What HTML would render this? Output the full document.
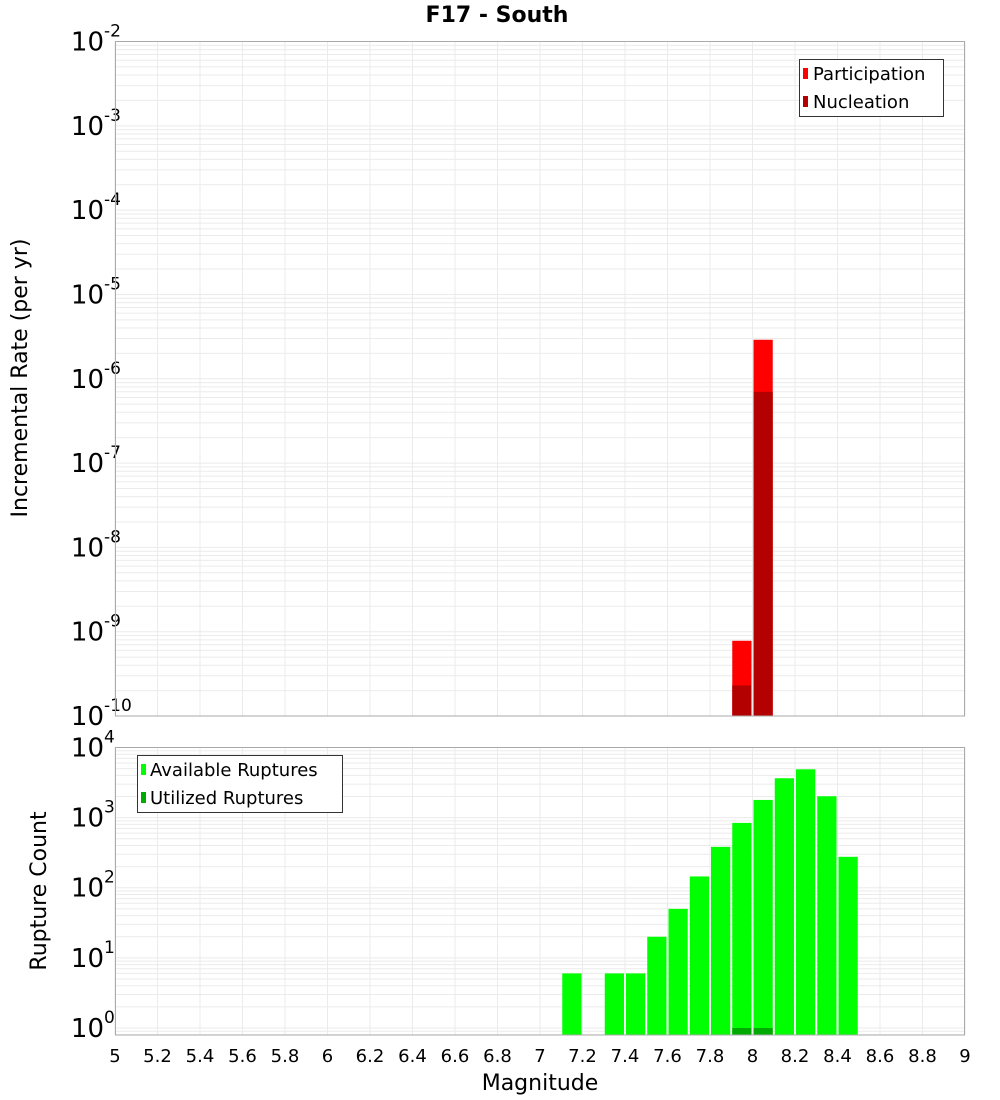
<!DOCTYPE html>
<html><head><meta charset="utf-8"><style>
body{margin:0;background:#fff;}
svg{display:block;font-family:"DejaVu Sans","Liberation Sans",sans-serif;}
</style></head><body>
<svg id="chart" width="1000" height="1100" xmlns="http://www.w3.org/2000/svg">
<text x="497" y="22" text-anchor="middle" font-size="22" font-weight="bold">F17 - South</text>
<g id="top"></g>
<g id="bot"></g>
<text transform="translate(27,378) rotate(-90)" text-anchor="middle" font-size="22">Incremental Rate (per yr)</text>
<text transform="translate(46,891) rotate(-90)" text-anchor="middle" font-size="22">Rupture Count</text>
<text x="540" y="1090" text-anchor="middle" font-size="22">Magnitude</text>
<g>
<rect x="799.5" y="59.5" width="144" height="57" fill="#fff" stroke="#333"/>
<rect x="803" y="68" width="5" height="11" fill="#ff0000"/>
<text x="813" y="80" font-size="18">Participation</text>
<rect x="803" y="96" width="5" height="11" fill="#b30000"/>
<text x="813" y="108" font-size="18">Nucleation</text>
</g>
<g>
<rect x="137.5" y="755.5" width="205" height="57" fill="#fff" stroke="#333"/>
<rect x="141" y="764" width="5" height="11" fill="#00ff00"/>
<text x="150" y="776" font-size="18">Available Ruptures</text>
<rect x="141" y="792" width="5" height="11" fill="#00aa00"/>
<text x="150" y="804" font-size="18">Utilized Ruptures</text>
</g>
</svg>
<script>
const xTicks=[5,5.2,5.4,5.6,5.8,6,6.2,6.4,6.6,6.8,7,7.2,7.4,7.6,7.8,8,8.2,8.4,8.6,8.8,9];
const rateMags=[7.95,8.05];
const participation=[7.8e-10,2.9e-6];
const nucleation=[2.3e-10,7.0e-7];
const countMags=[7.15,7.35,7.45,7.55,7.65,7.75,7.85,7.95,8.05,8.15,8.25,8.35,8.45];
const available=[6,6,6,20,50,145,383,841,1787,3642,4890,2018,276];
const utilizedMags=[7.95,8.05];
const utilized=[1,1];
const topExps=[-10,-9,-8,-7,-6,-5,-4,-3,-2];
const botExps=[0,1,2,3,4];

const NS="http://www.w3.org/2000/svg";
const X0=115,X1=965;
const x=m=>X0+(m-5)/4*(X1-X0);
const T0=716,T1=41.5;
const yTop=v=>T0-(Math.log10(v)+10)/8*(T0-T1);
const B0=1035,B1=747.5,BL=-0.1;
const yBot=v=>B0-(Math.log10(v)-BL)/(4-BL)*(B0-B1);
function el(p,tag,a){const e=document.createElementNS(NS,tag);for(const k in a)e.setAttribute(k,a[k]);p.appendChild(e);return e;}

function panel(g,yf,ytop,ybot,lo,hi,exps){
  for(let d=lo;d<hi;d++)for(let k=1;k<10;k++){const v=k*Math.pow(10,d);const yy=yf(v);if(yy<ytop-0.5||yy>ybot+0.5)continue;
    const l=el(g,'line',{x1:X0,x2:X1,y1:yy,y2:yy,stroke:'#ebebeb','stroke-width':1});
    
    }
  xTicks.forEach(t=>{const l=el(g,'line',{x1:x(t),x2:x(t),y1:ytop,y2:ybot,stroke:'#ebebeb','stroke-width':1});
    
    });
  exps.forEach(e=>{const yy=yf(Math.pow(10,e));
    const t=el(g,'text',{x:104,y:yy+9,'text-anchor':'end','font-size':26});
    
    
    t.textContent='10';
    const s=el(g,'text',{x:104,y:yy-5,'font-size':17});
    
    
    s.textContent=String(e);});
}
const gTop=document.getElementById('top'),gBot=document.getElementById('bot');
panel(gTop,yTop,T1,T0,-10,-2,topExps);
panel(gBot,yBot,B1,B0,-1,4,botExps);
const bw=x(5.1)-x(5)-2;
function bars(g,mags,vals,yf,base,fill,name){
  mags.forEach((m,i)=>{const yy=yf(vals[i]);
    const r=el(g,'rect',{x:x(m)-bw/2,y:yy,width:bw,height:base-yy,fill:fill});
    
    });
}
bars(gTop,rateMags,participation,yTop,T0,'#ff0000','participation-bar');
bars(gTop,rateMags,nucleation,yTop,T0,'#b30000','nucleation-bar');
bars(gBot,countMags,available,yBot,B0,'#00ff00','available-bar');
bars(gBot,utilizedMags,utilized,yBot,B0,'#00aa00','utilized-bar');
el(gTop,'rect',{x:X0+0.5,y:T1,width:X1-X0-1,height:T0-T1,fill:'none',stroke:'#aaa'});
el(gBot,'rect',{x:X0+0.5,y:B1,width:X1-X0-1,height:B0-B1,fill:'none',stroke:'#aaa'});
xTicks.forEach(t=>{const tx=el(gBot,'text',{x:x(t),y:1062,'text-anchor':'middle','font-size':18});
  
  
  tx.textContent=String(t);});
</script>
</body></html>
